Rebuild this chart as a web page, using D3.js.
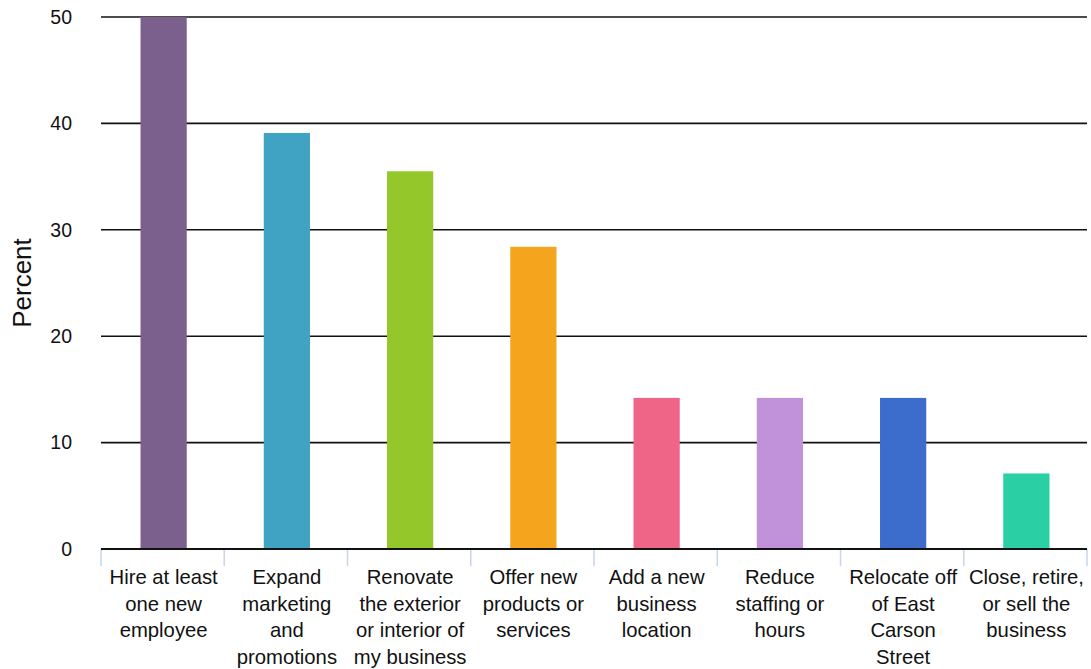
<!DOCTYPE html>
<html><head><meta charset="utf-8">
<script src="https://cdn.jsdelivr.net/npm/d3@7"></script>
<style>body{margin:0;background:#fff}svg{display:block}text{font-family:"Liberation Sans",Arial,sans-serif;fill:#111}</style>
</head><body>
<svg id="c" width="1091" height="669"></svg>
<script>
const categories = [
  ["Hire at least","one new","employee"],
  ["Expand","marketing","and","promotions"],
  ["Renovate","the exterior","or interior of","my business"],
  ["Offer new","products or","services"],
  ["Add a new","business","location"],
  ["Reduce","staffing or","hours"],
  ["Relocate off","of East","Carson","Street"],
  ["Close, retire,","or sell the","business"]
];
const values = [50, 39.1, 35.5, 28.4, 14.2, 14.2, 14.2, 7.1];
const colors = ["#7b5f8c","#40a3c3","#94c72a","#f4a51d","#ef6587","#c192da","#3d6dcc","#2bcfa4"];
const yTicks = [0,10,20,30,40,50];

(function(){
const svg = d3.select("#c");
const mLeft = 101, mRight = 1087, mTop = 17, mBottom = 549;
const x = d3.scaleBand().domain(d3.range(categories.length)).range([mLeft, mRight]).paddingInner(0).paddingOuter(0);
const y = d3.scaleLinear().domain([0,50]).range([mBottom, mTop]);

// gridlines
svg.append("g").selectAll("line").data(yTicks.filter(d=>d>0)).join("line")
  .attr("x1", mLeft).attr("x2", mRight).attr("y1", d=>y(d)).attr("y2", d=>y(d))
  .attr("stroke","#111").attr("stroke-width",1.6);

// y labels
svg.append("g").selectAll("text").data(yTicks).join("text")
  .attr("x", 72).attr("y", d=>y(d)).attr("dy","0.35em").attr("text-anchor","end")
  .attr("font-size",19.5).text(d=>d);

svg.append("text").attr("transform",`translate(31,${(mTop+mBottom)/2}) rotate(-90)`)
  .attr("text-anchor","middle").attr("font-size",26).text("Percent");

// bars
const bw = x.bandwidth()*0.375;
svg.append("g").selectAll("rect").data(values).join("rect")
  .attr("x", (d,i)=>x(i)+x.bandwidth()/2 - bw/2 + 1)
  .attr("width", bw)
  .attr("y", d=>y(d)).attr("height", d=>y(0)-y(d))
  .attr("fill", (d,i)=>colors[i]);

// category ticks
const tickPos = d3.range(categories.length+1).map(i=> i<categories.length ? x(i) : mRight);
svg.append("g").selectAll("line").data(tickPos).join("line")
  .attr("x1", d=>d).attr("x2", d=>d).attr("y1", mBottom).attr("y2", mBottom+17)
  .attr("stroke","#c9d5ea").attr("stroke-width",1.5);

// x axis line
svg.append("line").attr("x1",mLeft).attr("x2",mRight).attr("y1",mBottom).attr("y2",mBottom)
  .attr("stroke","#111").attr("stroke-width",2);

// category labels
const lab = svg.append("g").selectAll("text").data(categories).join("text")
  .attr("text-anchor","middle").attr("font-size",20.3)
  .attr("x",(d,i)=>x(i)+x.bandwidth()/2+1).attr("y",584);
lab.selectAll("tspan").data(d=>d).join("tspan")
  .attr("x", function(){return this.parentNode.getAttribute("x");})
  .attr("dy",(d,i)=>i===0?0:26.5).text(d=>d);
})();
</script>
</body></html>
